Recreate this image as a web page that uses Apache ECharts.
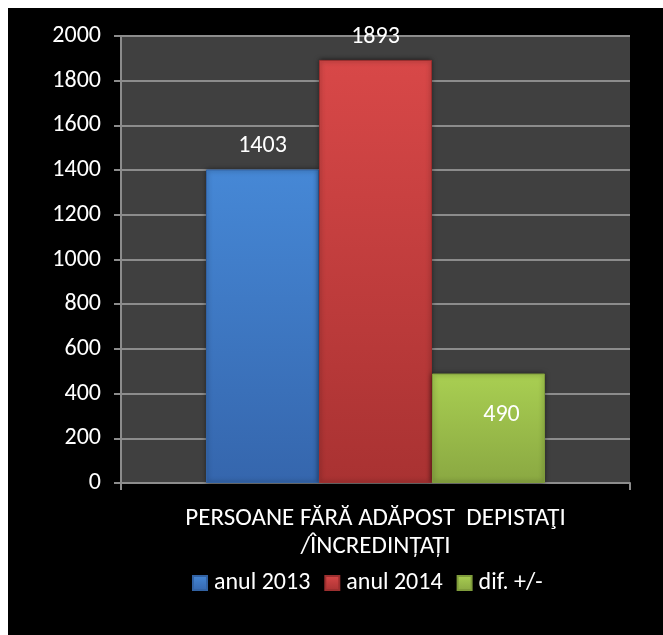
<!DOCTYPE html>
<html>
<head>
<meta charset="utf-8">
<script src="https://cdn.jsdelivr.net/npm/echarts@6/dist/echarts.min.js"></script>
<style>
html,body{margin:0;padding:0;background:#fff;}
#chart{position:absolute;left:8px;top:8px;width:655px;height:627px;}
</style>
</head>
<body>
<div id="chart"></div>
<script>
var categories = ['PERSOANE FĂRĂ ADĂPOST  DEPISTAŢI\n/ÎNCREDINȚAȚI'];
var seriesNames = ['anul 2013', 'anul 2014', 'dif. +/-'];
var values2013 = [1403];
var values2014 = [1893];
var valuesDif = [490];
var yTicks = [0, 200, 400, 600, 800, 1000, 1200, 1400, 1600, 1800, 2000];

var FONT = 'Carlito, Calibri, "Open Sans", sans-serif';
var FS = 24;
function grad(top, bottom) {
  return new echarts.graphic.LinearGradient(0, 0, 0, 1, [
    {offset: 0, color: top}, {offset: 1, color: bottom}
  ]);
}
var chart = echarts.init(document.getElementById('chart'));
chart.setOption({
  backgroundColor: '#000',
  textStyle: {fontFamily: FONT},
  grid: {left: 113, top: 28, right: 33, bottom: 152, show: true, backgroundColor: '#404040', borderWidth: 0},
  legend: {
    data: seriesNames, left: 184, top: 563, padding: 0, icon: 'rect', itemWidth: 14, itemHeight: 14, itemGap: 14,
    textStyle: {color: '#fff', fontSize: FS, fontFamily: FONT, padding: [0, 0, 0, 2]}
  },
  xAxis: {
    type: 'category', data: categories,
    axisLine: {lineStyle: {color: '#8c8c8c', width: 2}},
    axisTick: {show: true, length: 7, lineStyle: {color: '#8c8c8c', width: 2}},
    axisLabel: {color: '#fff', fontSize: 25, lineHeight: 28, margin: 22, fontFamily: FONT}
  },
  yAxis: {
    type: 'value', min: yTicks[0], max: yTicks[yTicks.length - 1], interval: 200,
    axisLine: {show: true, lineStyle: {color: '#8c8c8c', width: 2}},
    axisTick: {show: true, length: 7, lineStyle: {color: '#8c8c8c', width: 2}},
    splitLine: {lineStyle: {color: '#8c8c8c', width: 2}},
    axisLabel: {color: '#fff', fontSize: FS, margin: 20, fontFamily: FONT, formatter: function (v) { return String(v); }}
  },
  series: [
    {name: seriesNames[0], type: 'bar', data: values2013, barGap: '0%', barCategoryGap: '33.4%',
     itemStyle: {color: grad('#4688d6', '#3566ad'), borderColor: '#3262a3', borderWidth: 1, shadowColor: 'rgba(0,0,0,0.6)', shadowBlur: 5},
     label: {show: true, position: 'top', distance: 11, color: '#fff', fontSize: FS, fontFamily: FONT}},
    {name: seriesNames[1], type: 'bar', data: values2014,
     itemStyle: {color: grad('#d84848', '#a93232'), borderColor: '#9c2f2f', borderWidth: 1, shadowColor: 'rgba(0,0,0,0.6)', shadowBlur: 5},
     label: {show: true, position: 'top', distance: 11, color: '#fff', fontSize: FS, fontFamily: FONT}},
    {name: seriesNames[2], type: 'bar', data: valuesDif,
     itemStyle: {color: grad('#a9cf52', '#8aa842'), borderColor: '#7f9c3b', borderWidth: 1, shadowColor: 'rgba(0,0,0,0.6)', shadowBlur: 5},
     label: {show: true, position: 'inside', offset: [13, -13], color: '#fff', fontSize: FS, fontFamily: FONT}}
  ]
});
</script>
</body>
</html>
